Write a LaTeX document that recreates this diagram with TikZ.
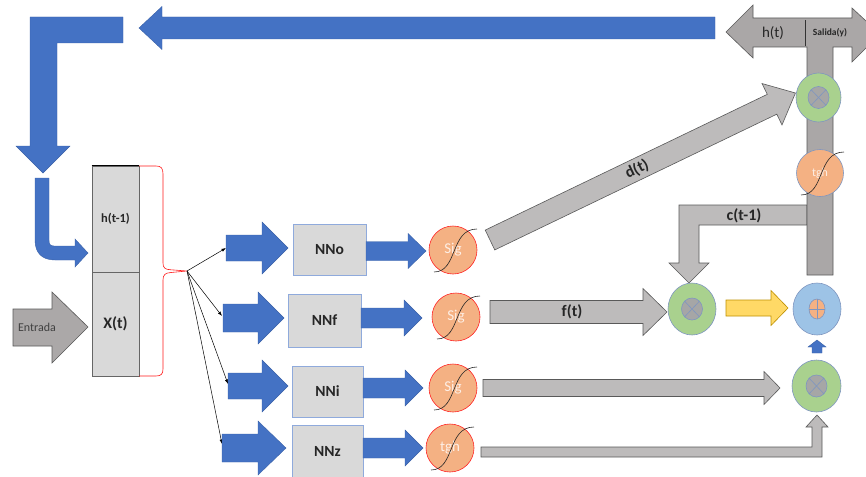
\documentclass[tikz,border=0pt]{standalone}
\usepackage{fontspec}
\setmainfont{Carlito}
\usetikzlibrary{arrows.meta,shapes.geometric}
\definecolor{blu}{HTML}{4472C4}
\definecolor{grayA}{HTML}{BDBBBB}
\definecolor{grayB}{HTML}{AAA7A7}
\definecolor{grayE}{HTML}{ABA8A8}
\definecolor{edge}{HTML}{595959}
\definecolor{boxfill}{HTML}{D9D9D9}
\definecolor{boxedge}{HTML}{8FAADC}
\definecolor{orng}{HTML}{F4B183}
\definecolor{grn}{HTML}{A9D18E}
\definecolor{lblue}{HTML}{9DC3E6}
\definecolor{ylw}{HTML}{FFD966}
\definecolor{ylwedge}{HTML}{BF9000}
\definecolor{circedge}{HTML}{7F96C0}
\definecolor{txt}{HTML}{262626}
\newcommand{\myrarrow}[7][]{\draw[#1] (#2,{#5-#6}) -- (#3,{#5-#6}) -- (#3,{#5-#7}) -- (#4,#5) -- (#3,{#5+#7}) -- (#3,{#5+#6}) -- (#2,{#5+#6}) -- cycle;}
\newcommand{\myscurve}[1]{\begin{scope}[shift={(#1.center)}]\draw[black!85,line width=0.6pt] (-19,22) .. controls (5,22) and (-3,-21) .. (24,-21);\end{scope}}
\newcommand{\mymult}[1]{\begin{scope}[shift={(#1.center)}]\draw[fill=gray!70!white,draw=circedge,line width=0.6pt] (0,0) ellipse (10.5pt and 11pt);\draw[circedge,line width=0.6pt] (-7.4,-7.8) -- (7.4,7.8) (-7.4,7.8) -- (7.4,-7.8);\end{scope}}
\newcommand{\myadd}[1]{\begin{scope}[shift={(#1.center)}]\draw[fill=orng,draw=circedge,line width=0.6pt] (0,0) ellipse (8pt and 10pt);\draw[circedge,line width=0.6pt] (-8,0) -- (8,0) (0,-10) -- (0,10);\end{scope}}
\tikzset{
  barr/.style={fill=blu,draw=blu!85!black,line width=0.4pt},
  garr/.style={fill=grayA,draw=edge,line width=0.6pt},
  nnbox/.style={rectangle,fill=boxfill,draw=boxedge,line width=0.7pt,text=txt,font=\fontsize{15.5}{15.5}\selectfont\bfseries},
  stackbox/.style={rectangle,fill=boxfill,draw=gray!80!black,line width=0.7pt,text=txt,minimum width=47pt,inner sep=0pt},
  sigc/.style={circle,fill=orng,draw=red!85!white,line width=0.6pt,minimum size=48pt,inner sep=0pt,text=white!80!orng,font=\fontsize{15}{15}\selectfont},
  multc/.style={ellipse,fill=grn,draw=circedge,line width=0.6pt,inner sep=0pt},
  lbl/.style={text=txt,font=\fontsize{16}{16}\selectfont\bfseries,inner sep=0pt},
  thinarr/.style={black,line width=0.5pt,-{Latex[length=4.5pt,width=3.2pt]}}
}
\begin{document}
\begin{tikzpicture}[x=1pt,y=-1pt,line join=miter]
\useasboundingbox (0,0) rectangle (866,476);
% feedback blue arrows
\myrarrow[barr]{715}{162}{139}{28}{11}{21.5}
\draw[barr] (30,17) -- (123,17) -- (123,43) -- (57,43) -- (57,146) -- (70,146) -- (43,173) -- (16,146) -- (30,146) -- cycle;
\draw[barr] (35,178) -- (49,178) -- (49,240) .. controls (49,244) and (50,246) .. (54,246) -- (75,246) -- (75,239) -- (88,253) -- (75,267) -- (75,260) -- (55,260) .. controls (42,260) and (35,253) .. (35,240) -- cycle;
% Entrada
\draw[fill=grayE,draw=edge,line width=0.6pt] (13,309) -- (52,309) -- (52,292) -- (88,327) -- (52,363) -- (52,346) -- (13,346) -- cycle;
\node[text=black!75,font=\fontsize{12}{12}\selectfont,inner sep=0pt] (ent) at (37,327) {Entrada};
% stack
\node[stackbox,minimum height=106pt,font=\fontsize{12.5}{12.5}\selectfont\bfseries] (h1) at (115.5,219) {h(t-1)};
\node[stackbox,minimum height=104pt,font=\fontsize{16}{16}\selectfont\bfseries] (xt) at (115.5,324) {X(t)};
\draw[black,line width=0.9pt] (h1.north west) -- (h1.north east);
% brace
\draw[red!90!white,line width=0.6pt] (139,166) -- (156,166) .. controls (161,166) and (163,168) .. (163,174) -- (163,263) .. controls (163,268) and (165,269.5) .. (171,269.8) -- (187,271) -- (171,272.5) .. controls (165,272.8) and (163,275) .. (163,280) -- (163,369) .. controls (163,374) and (161,376) .. (156,376) -- (139,376);
% fan-out
\coordinate (br) at (187,271);
\coordinate (t1) at (226,248);
\coordinate (t2) at (222,316);
\coordinate (t3) at (228,384);
\coordinate (t4) at (222,444);
\draw[thinarr] (br) -- (t1);
\draw[thinarr] (br) -- (t2);
\draw[thinarr] (br) -- (t3);
\draw[thinarr] (br) -- (t4);
% blue arrows to NN
\myrarrow[barr]{226}{262}{288}{248}{13}{26}
\myrarrow[barr]{223}{258}{284}{318}{14}{26}
\myrarrow[barr]{228}{262}{288}{386}{13}{26}
\myrarrow[barr]{222}{258}{286}{448}{14}{27}
% NN boxes
\node[nnbox,minimum width=73pt,minimum height=51pt] (nno) at (329.5,249.5) {NNo};
\node[nnbox,minimum width=73pt,minimum height=53pt] (nnf) at (324.5,320.5) {NNf};
\node[nnbox,minimum width=71pt,minimum height=51pt] (nni) at (327.5,391.5) {NNi};
\node[nnbox,minimum width=71pt,minimum height=52pt] (nnz) at (327.5,451) {NNz};
% blue arrows NN -> activation
\myrarrow[barr]{366}{408}{426}{251}{9.5}{17.5}
\myrarrow[barr]{361}{404}{422}{318}{10}{18}
\myrarrow[barr]{363}{405}{423}{388}{10}{18}
\myrarrow[barr]{363}{405}{423}{448}{10}{18}
% activations
\node[sigc] (s1) at (453,250) {Sig};
\node[sigc] (s2) at (456,317) {Sig};
\node[sigc] (s3) at (453,388) {Sig};
\node[sigc] (s4) at (450,448) {tgh};
\myscurve{s1}\myscurve{s2}\myscurve{s3}\myscurve{s4}
% gray arrows
\begin{scope}[shift={(490,240)},rotate=25.7]
\myrarrow[garr]{0}{313}{339}{0}{11}{23}
\node[lbl,rotate=25.7] (dt) at (163,0) {d(t)};
\end{scope}
\myrarrow[garr]{490}{643}{667}{312}{11.5}{23.5}
\node[lbl] (ft) at (572,312) {f(t)};
\myrarrow[garr]{483}{764}{780}{388}{8.5}{16.5}
\draw[garr] (481,447) -- (812,447) -- (812,427) -- (806,427) -- (817,415) -- (828,427) -- (822,427) -- (822,457) -- (481,457) -- cycle;
\draw[garr] (807,205) -- (679,205) -- (679,263) -- (669,263) -- (689,283) -- (709,263) -- (699,263) -- (699,225) -- (807,225) -- cycle;
\node[lbl] (ct) at (744,216) {c(t-1)};
% output stem + double arrow
\draw[fill=grayB,draw=edge,line width=0.6pt] (726,32) -- (753,5) -- (753,18) -- (852,18) -- (852,8) -- (880,34) -- (852,62) -- (852,47) -- (833,47) -- (833,275) -- (807,275) -- (807,47) -- (753,47) -- (753,58) -- cycle;
\draw[black!80,line width=0.8pt] (805,20) -- (805,46);
\node[text=txt,font=\fontsize{15}{15}\selectfont,inner sep=0pt] (ht) at (773,33) {h(t)};
\node[text=txt,font=\fontsize{9.5}{9.5}\selectfont\bfseries,inner sep=0pt] (sal) at (830,33) {Salida(y)};
% yellow and small blue
\myrarrow[fill=ylw,draw=ylwedge,line width=0.6pt]{726}{771}{788}{308}{8}{17.5}
\draw[barr] (812,353) -- (812,347) -- (808,347) -- (817,340) -- (826,347) -- (822,347) -- (822,353) -- cycle;
% circles
\node[multc,minimum width=45pt,minimum height=49pt] (m1) at (818.5,97.5) {};
\mymult{m1}
\node[circle,fill=orng,draw=circedge,line width=0.6pt,minimum size=47pt,inner sep=0pt,text=white!80!orng,font=\fontsize{12}{12}\selectfont] (tg) at (820,173) {tgh};
\myscurve{tg}
\node[multc,minimum width=48pt,minimum height=52pt] (m2) at (692,309) {};
\mymult{m2}
\node[ellipse,fill=lblue,draw=circedge,line width=0.6pt,inner sep=0pt,minimum width=48pt,minimum height=52pt] (ad) at (817,309) {};
\myadd{ad}
\node[multc,minimum width=49pt,minimum height=52pt] (m3) at (816.5,386) {};
\mymult{m3}
\end{tikzpicture}
\end{document}
